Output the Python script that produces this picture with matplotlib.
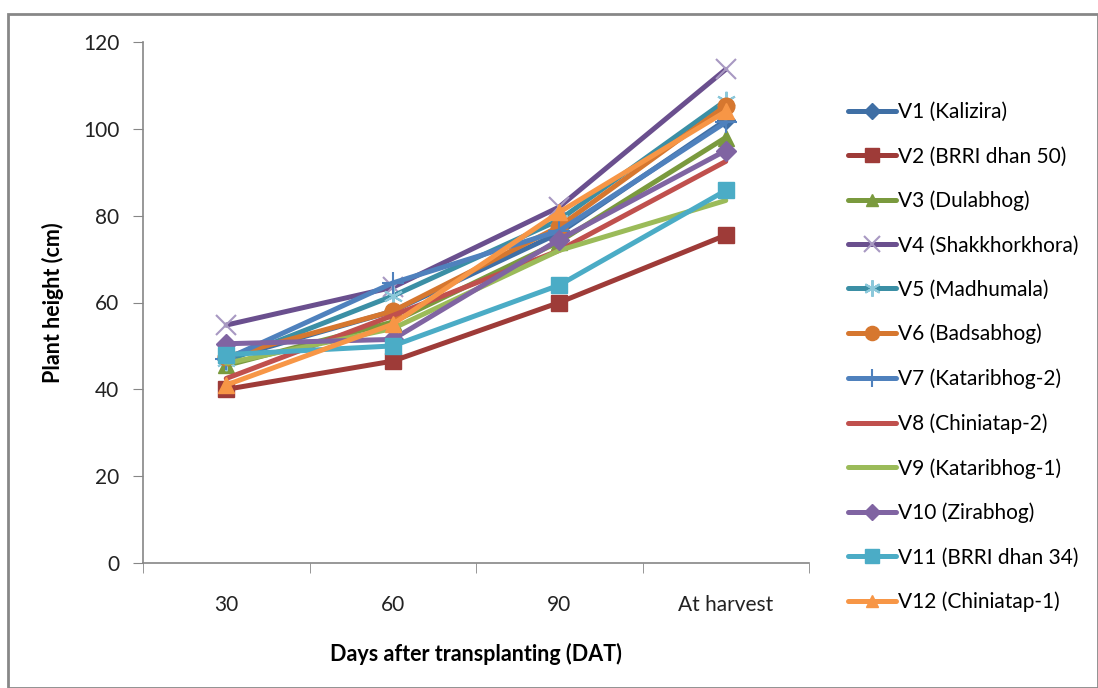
import matplotlib
matplotlib.use("Agg")
import matplotlib.pyplot as plt
from matplotlib.patches import Rectangle

plt.rcParams["font.family"] = ["Lato", "DejaVu Sans"]

categories = ["30", "60", "90", "At harvest"]
labels = [
    "V1 (Kalizira)", "V2 (BRRI dhan 50)", "V3 (Dulabhog)", "V4 (Shakkhorkhora)",
    "V5 (Madhumala)", "V6 (Badsabhog)", "V7 (Kataribhog-2)", "V8 (Chiniatap-2)",
    "V9 (Kataribhog-1)", "V10 (Zirabhog)", "V11 (BRRI dhan 34)", "V12 (Chiniatap-1)",
]
v1 = [47.0, 58.0, 76.0, 102.0]
v2 = [40.0, 46.5, 60.0, 75.5]
v3 = [45.5, 55.5, 74.0, 98.0]
v4 = [54.8, 63.5, 82.0, 113.7]
v5 = [46.5, 61.5, 79.0, 106.5]
v6 = [47.5, 58.0, 77.5, 105.3]
v7 = [47.0, 64.5, 76.5, 101.5]
v8 = [42.5, 57.0, 72.0, 92.5]
v9 = [46.0, 54.0, 72.0, 83.5]
v10 = [50.5, 51.5, 74.5, 95.0]
v11 = [48.0, 50.0, 64.0, 85.8]
v12 = [41.0, 55.0, 80.8, 104.0]
series = [v1, v2, v3, v4, v5, v6, v7, v8, v9, v10, v11, v12]

colors = ["#3F6FA5", "#9E3B38", "#7A9A3E", "#6A4F8E", "#3B8FA5", "#D6772F",
          "#4F81BD", "#C0504D", "#9BBB59", "#8064A2", "#4BACC6", "#F79646"]
edge = ["#3F6FA5", "#9E3B38", "#7A9A3E", "#A898C2", "#8CC8DA", "#D6772F",
        "#4F81BD", "#C0504D", "#9BBB59", "#8064A2", "#4BACC6", "#F79646"]
markers = ["D", "s", "^", "x", (6, 2, 0), "o", "+", None, None, "D", "s", "^"]
msizes = [9, 12, 11, 14, 14, 12, 16, 0, 0, 10, 12, 11]

fig = plt.figure(figsize=(10.98, 6.88), dpi=100)
ax = fig.add_axes([143 / 1098, 1 - 563 / 688, 666 / 1098, 521 / 688])

x = list(range(len(categories)))
for vals, lab, c, ec, m, ms in zip(series, labels, colors, edge, markers, msizes):
    if m in ("D", "s", "^", "o"):
        ax.plot(x, vals, color=c, lw=3.6, marker=m, ms=ms, mfc=c, mec=c,
                label=lab, solid_capstyle="round")
    else:
        ax.plot(x, vals, color=c, lw=3.6, marker=m, ms=ms, mec=ec, mew=1.5,
                label=lab, solid_capstyle="round")

ax.set_xlim(-0.5, 3.5)
ax.set_ylim(0, 120)
ax.set_yticks(range(0, 121, 20))
ax.set_xticks(x)
ax.set_xticklabels(categories)
ax.set_xticks([-0.5, 0.5, 1.5, 2.5, 3.5], minor=True)
ax.tick_params(axis="x", which="major", length=0, pad=23, labelsize=15, colors="#222222")
ax.tick_params(axis="x", which="minor", length=7, color="#868686")
ax.tick_params(axis="y", length=7, color="#868686", labelsize=15, pad=10, labelcolor="#222222")
for s in ["top", "right"]:
    ax.spines[s].set_visible(False)
for s in ["left", "bottom"]:
    ax.spines[s].set_color("#868686")
    ax.spines[s].set_linewidth(1.2)

ax.set_ylabel("Plant height (cm)", fontsize=15.5, fontweight="bold", labelpad=14)
ax.set_xlabel("Days after transplanting (DAT)", fontsize=15.5, fontweight="bold", labelpad=20)

fig.legend(loc="upper left", bbox_to_anchor=(840 / 1098, 1 - 94 / 688), frameon=False,
           fontsize=15, handlelength=2.3, labelspacing=1.16, handletextpad=0.1,
           borderaxespad=0, markerscale=0.85)

fig.add_artist(Rectangle((8 / 1098, 0), 1 - 8 / 1098, 1 - 14 / 688,
                         transform=fig.transFigure, fill=False,
                         edgecolor="#878787", lw=2))

fig.savefig("out.png", dpi=100)
